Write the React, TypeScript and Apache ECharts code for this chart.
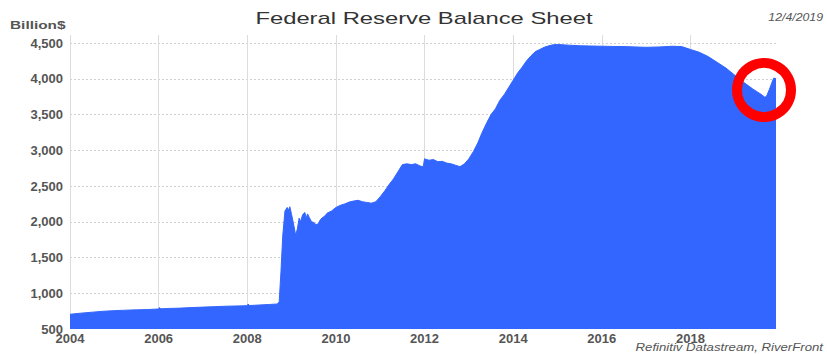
import React, { useEffect, useRef } from "react";
import * as echarts from "echarts";

const years: number[] = [
  2004.0, 2004.25, 2004.5, 2004.75, 2005.0, 2005.25, 2005.5, 2005.75, 2006.0, 2006.02, 2006.05, 2006.25,
  2006.5, 2006.75, 2007.0, 2007.25, 2007.5, 2007.75, 2008.0, 2008.02, 2008.05, 2008.25, 2008.5, 2008.68,
  2008.72, 2008.76, 2008.8, 2008.85, 2008.9, 2008.93, 2008.96, 2009.0, 2009.05, 2009.08, 2009.1, 2009.13,
  2009.17, 2009.2, 2009.25, 2009.3, 2009.33, 2009.36, 2009.4, 2009.45, 2009.5, 2009.55, 2009.6, 2009.65,
  2009.7, 2009.75, 2009.8, 2009.9, 2010.0, 2010.1, 2010.2, 2010.3, 2010.4, 2010.5, 2010.6, 2010.7,
  2010.8, 2010.9, 2011.0, 2011.1, 2011.2, 2011.3, 2011.4, 2011.5, 2011.6, 2011.7, 2011.8, 2011.9,
  2011.97, 2012.0, 2012.05, 2012.1, 2012.2, 2012.3, 2012.4, 2012.5, 2012.6, 2012.7, 2012.8, 2012.9,
  2013.0, 2013.1, 2013.2, 2013.3, 2013.4, 2013.5, 2013.6, 2013.7, 2013.8, 2013.9, 2014.0, 2014.1,
  2014.2, 2014.3, 2014.4, 2014.5, 2014.6, 2014.7, 2014.8, 2014.9, 2015.0, 2015.25, 2015.5, 2015.75,
  2016.0, 2016.25, 2016.5, 2016.75, 2017.0, 2017.3, 2017.6, 2017.8, 2018.0, 2018.2, 2018.4, 2018.6,
  2018.8, 2019.0, 2019.2, 2019.4, 2019.5, 2019.6, 2019.68, 2019.72, 2019.78, 2019.84, 2019.88, 2019.93,
];

const balance: number[] = [
  706, 722, 735, 748, 757, 763, 768, 772, 780, 800, 782, 788,
  792, 800, 806, 812, 818, 822, 826, 850, 828, 835, 843, 850,
  880, 1300, 1800, 2150, 2200, 2160, 2210, 2100, 1950, 1850, 1830, 1900,
  2050, 2000, 2100, 2130, 2050, 2110, 2060, 2000, 1990, 1960, 1970, 2030,
  2060, 2080, 2120, 2150, 2200, 2230, 2250, 2275, 2290, 2300, 2280, 2270,
  2260, 2280, 2350, 2430, 2520, 2600, 2700, 2800, 2810, 2800, 2810, 2780,
  2770, 2880, 2870, 2860, 2870, 2840, 2845, 2820, 2810, 2790, 2770, 2810,
  2880, 2980, 3100, 3250, 3380, 3500, 3580, 3700, 3780, 3880, 3980, 4080,
  4160, 4250, 4320, 4380, 4410, 4440, 4460, 4475, 4480, 4470, 4462, 4458,
  4455, 4452, 4450, 4445, 4440, 4445, 4455, 4450, 4410, 4370, 4310, 4230,
  4150, 4050, 3950, 3860, 3820, 3780, 3740, 3760, 3850, 3950, 4010, 4000,
];

const yTicks = { min: 500, max: 4612, interval: 500 };
const xTicks = { min: 2004, max: 2019.93, interval: 2 };

const title = "Federal Reserve Balance Sheet";
const unitLabel = "Billion$";
const dateLabel = "12/4/2019";
const sourceLabel = "Refinitiv Datastream, RiverFront";

export default function App() {
  const ref = useRef<HTMLDivElement>(null);
  useEffect(() => {
    if (!ref.current) return;
    const chart = echarts.init(ref.current, undefined, { renderer: "svg" });
    const data = years.map((y, i) => [y, balance[i]]);
    const font = "'Liberation Sans', Arial, sans-serif";
    chart.setOption({
      animation: false,
      backgroundColor: "#ffffff",
      grid: { left: 70, right: 51, top: 35, bottom: 25, containLabel: false },
      xAxis: {
        type: "value",
        min: xTicks.min,
        max: xTicks.max,
        interval: xTicks.interval,
        axisLine: { show: false },
        axisTick: { show: false },
        axisLabel: {
          formatter: (v: number) => String(Math.round(v)),
          showMaxLabel: false,
          color: "#555",
          fontSize: 13,
          fontWeight: "bold",
          fontFamily: font,
          margin: 3,
        },
        splitLine: {
          show: true,
          showMinLine: true,
          showMaxLine: false,
          lineStyle: { color: "#dcdcdc", width: 1, type: "solid" },
        },
      },
      yAxis: {
        type: "value",
        min: yTicks.min,
        max: yTicks.max,
        interval: yTicks.interval,
        axisLine: { show: false },
        axisTick: { show: false },
        axisLabel: {
          showMaxLabel: false,
          color: "#555",
          fontSize: 13,
          fontWeight: "bold",
          fontFamily: font,
          margin: 7,
        },
        splitLine: {
          show: true,
          showMinLine: false,
          showMaxLine: false,
          lineStyle: { color: "#cfcfcf", width: 1, type: [2, 2] },
        },
      },
      series: [
        {
          type: "line",
          data,
          showSymbol: false,
          symbol: "none",
          lineStyle: { color: "#3366ff", width: 1 },
          areaStyle: { color: "#3366ff", opacity: 1, origin: "start" },
        },
      ],
      graphic: [
        {
          type: "text",
          x: 424,
          y: 18,
          scaleX: 1.4,
          style: {
            text: title,
            fill: "#333",
            font: `17px ${font}`,
            align: "center",
            verticalAlign: "middle",
          },
        },
        {
          type: "text",
          x: 10,
          y: 25,
          scaleX: 1.4,
          style: {
            text: unitLabel,
            fill: "#555",
            font: `bold 11px ${font}`,
            align: "left",
            verticalAlign: "middle",
          },
        },
        {
          type: "text",
          x: 823,
          y: 17,
          scaleX: 1.12,
          style: {
            text: dateLabel,
            fill: "#555",
            font: `italic 11px ${font}`,
            align: "right",
            verticalAlign: "middle",
          },
        },
        {
          type: "text",
          x: 823,
          y: 347,
          scaleX: 1.2,
          style: {
            text: sourceLabel,
            fill: "#555",
            font: `italic 11px ${font}`,
            align: "right",
            verticalAlign: "middle",
          },
        },
        {
          type: "circle",
          shape: { cx: 764, cy: 90, r: 27 },
          style: { fill: "none", stroke: "#ff0000", lineWidth: 10 },
          z: 100,
        },
      ],
    });
    return () => chart.dispose();
  }, []);
  return (
    <div
      ref={ref}
      style={{ position: "fixed", left: 0, top: 0, width: 827, height: 354 }}
    />
  );
}
